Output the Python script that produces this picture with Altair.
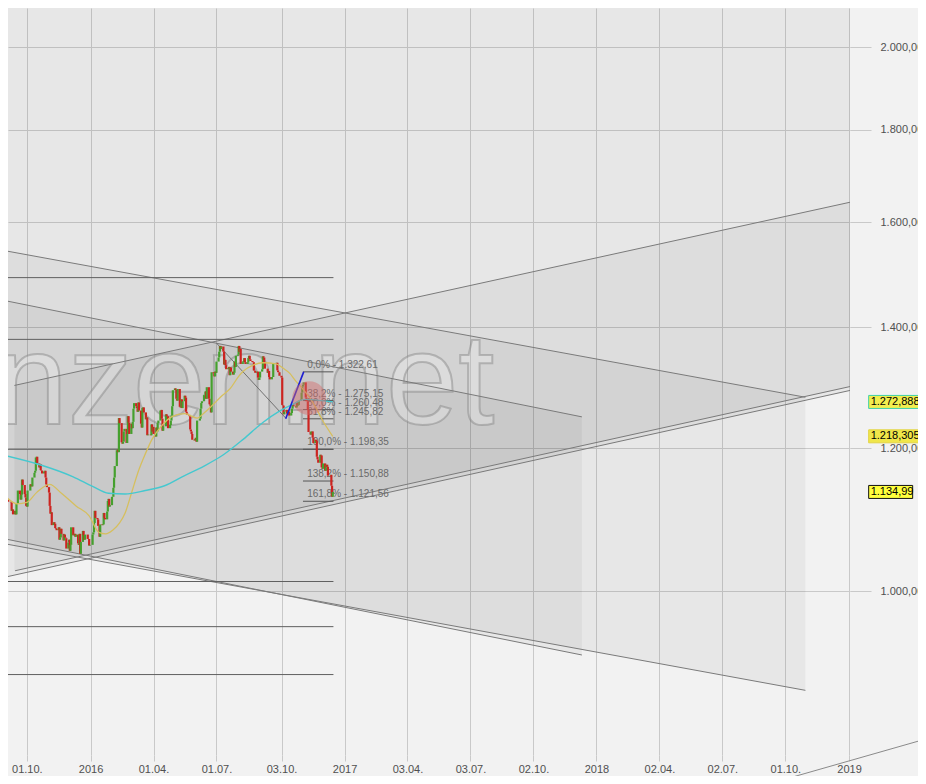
import altair as alt
import pandas as pd

# ---------------- layout ----------------
W, H = 842, 747
SX, SY = W / 857, H / 762
FONT = "Liberation Sans, Arial, sans-serif"

# ---------------- price data: daily closes (USD/oz) ----------------
c_2015_09 = [1124, 1121, 1121, 1120, 1108, 1110, 1103, 1108, 1103, 1118, 1118, 1137, 1132, 1124, 1131, 1153, 1145, 1132, 1127, 1115]
c_2015_10 = [1114, 1137, 1137, 1146, 1145, 1143, 1156, 1163, 1166, 1186, 1187, 1177, 1171, 1176, 1167, 1166, 1162, 1165, 1166, 1156, 1146, 1142]
c_2015_11 = [1134, 1115, 1104, 1106, 1088, 1092, 1090, 1084, 1083, 1081, 1085, 1068, 1071, 1083, 1076, 1067, 1075, 1071, 1070, 1056, 1064]
c_2015_12 = [1068, 1053, 1061, 1085, 1074, 1075, 1076, 1072, 1075, 1063, 1061, 1076, 1049, 1065, 1080, 1074, 1068, 1075, 1075, 1069, 1069, 1060, 1061]
c_2016_01 = [1061, 1075, 1078, 1091, 1108, 1098, 1096, 1087, 1087, 1072, 1089, 1088, 1089, 1105, 1098, 1096, 1107, 1122, 1125, 1114, 1116]
c_2016_02 = [1128, 1128, 1141, 1156, 1173, 1197, 1198, 1194, 1247, 1239, 1209, 1207, 1210, 1226, 1230, 1208, 1222, 1250, 1240, 1222, 1238]
c_2016_03 = [1231, 1241, 1262, 1271, 1266, 1263, 1257, 1272, 1259, 1238, 1232, 1263, 1264, 1256, 1245, 1248, 1220, 1221, 1221, 1220, 1237, 1226, 1233]
c_2016_04 = [1222, 1218, 1232, 1226, 1239, 1243, 1259, 1260, 1246, 1227, 1234, 1234, 1253, 1250, 1250, 1231, 1236, 1243, 1251, 1266, 1292]
c_2016_05 = [1295, 1293, 1278, 1275, 1294, 1265, 1264, 1277, 1263, 1274, 1283, 1280, 1257, 1254, 1252, 1250, 1229, 1226, 1222, 1213, 1212, 1214]
c_2016_06 = [1216, 1210, 1243, 1243, 1246, 1262, 1271, 1274, 1284, 1285, 1290, 1278, 1297, 1278, 1269, 1267, 1256, 1322, 1320, 1315, 1323, 1321]
c_2016_07 = [1340, 1347, 1357, 1367, 1362, 1366, 1357, 1335, 1343, 1334, 1327, 1329, 1331, 1317, 1330, 1323, 1318, 1321, 1340, 1331, 1350]
c_2016_08 = [1352, 1367, 1357, 1362, 1336, 1339, 1341, 1346, 1339, 1336, 1339, 1346, 1350, 1344, 1341, 1339, 1339, 1325, 1324, 1321, 1323, 1313, 1309]
c_2016_09 = [1313, 1323, 1327, 1349, 1347, 1338, 1328, 1328, 1321, 1324, 1314, 1310, 1314, 1314, 1336, 1337, 1337, 1338, 1325, 1322, 1322, 1316]
c_2016_10 = [1313, 1268, 1267, 1253, 1257, 1260, 1254, 1254, 1257, 1251, 1255, 1262, 1269, 1267, 1266, 1264, 1273, 1267, 1268, 1275, 1277]
c_2016_11 = [1288, 1298, 1301, 1305, 1280, 1274, 1274, 1260, 1225, 1221, 1226, 1226, 1216, 1208, 1213, 1211, 1187, 1183, 1178, 1190, 1189, 1171]
c_2016_12 = [1169, 1177, 1166, 1171, 1175, 1172, 1159, 1159, 1160, 1144, 1128, 1135]

months = [
    ("2015-09-03", "2015-09-30", c_2015_09), ("2015-10-01", "2015-10-31", c_2015_10),
    ("2015-11-01", "2015-11-30", c_2015_11), ("2015-12-01", "2015-12-31", c_2015_12),
    ("2016-01-01", "2016-01-31", c_2016_01), ("2016-02-01", "2016-02-29", c_2016_02),
    ("2016-03-01", "2016-03-31", c_2016_03), ("2016-04-01", "2016-04-30", c_2016_04),
    ("2016-05-01", "2016-05-31", c_2016_05), ("2016-06-01", "2016-06-30", c_2016_06),
    ("2016-07-01", "2016-07-31", c_2016_07), ("2016-08-01", "2016-08-31", c_2016_08),
    ("2016-09-01", "2016-09-30", c_2016_09), ("2016-10-01", "2016-10-31", c_2016_10),
    ("2016-11-01", "2016-11-30", c_2016_11), ("2016-12-01", "2016-12-16", c_2016_12),
]

# moving averages
yellow_dates = ["2015-09-03", "2015-09-17", "2015-10-01", "2015-10-15", "2015-11-03", "2015-11-20", "2015-12-11",
                "2015-12-30", "2016-01-13", "2016-01-23", "2016-02-02", "2016-02-12", "2016-02-20", "2016-03-01",
                "2016-03-10", "2016-03-20", "2016-03-30", "2016-04-13", "2016-04-27", "2016-05-16", "2016-06-03",
                "2016-06-13", "2016-06-23", "2016-07-07", "2016-07-21", "2016-08-02", "2016-08-09", "2016-08-23",
                "2016-09-06", "2016-09-25", "2016-10-05", "2016-10-15", "2016-10-23", "2016-11-02", "2016-11-12",
                "2016-11-21", "2016-12-01", "2016-12-16"]
yellow_vals = [1126, 1118, 1120, 1134, 1146, 1133, 1115, 1101, 1078, 1076, 1081, 1091, 1105, 1136, 1165, 1191, 1214,
               1235, 1249, 1254, 1247, 1255, 1265, 1281, 1295, 1315, 1324, 1334, 1338, 1336, 1329, 1320, 1308, 1295,
               1281, 1265, 1244, 1218.3]
cyan_dates = ["2015-09-03", "2015-10-20", "2015-12-07", "2016-01-04", "2016-01-27", "2016-02-20", "2016-03-20",
              "2016-04-17", "2016-05-16", "2016-06-13", "2016-07-11", "2016-08-09", "2016-09-06", "2016-09-30",
              "2016-10-19", "2016-11-06", "2016-11-30", "2016-12-16"]
cyan_vals = [1188, 1175, 1157, 1143, 1133, 1132, 1137, 1144, 1159, 1173, 1190, 1214, 1240, 1258, 1269, 1277, 1275, 1272.9]

# trend channels (filled) : start/end dates, upper and lower edge values
chan_names = ["outer", "rising", "falling_wide", "falling_narrow"]
chan_start = ["2015-09-03", "2015-09-13", "2015-09-03", "2015-09-03"]
chan_end = ["2019-01-03", "2019-01-03", "2018-10-30", "2017-12-11"]
chan_up_start = [2400, 1299.9, 1542.4, 1447.3]
chan_up_end = [2400, 1641.8, 1280.5, 1248.9]
chan_lo_start = [1018.9, 1026.4, 1061.8, 1068.4]
chan_lo_end = [1291.8, 1298.2, 881.5, 922.1]

# channel edge lines
line_names = ["A", "B", "C", "D", "D2", "E1", "E2"]
line_d1 = ["2015-09-03", "2015-09-03", "2015-09-13", "2015-09-14", "2015-09-03", "2015-09-03", "2015-09-03"]
line_v1 = [1542.4, 1447.3, 1299.9, 1026.6, 1018.9, 1061.8, 1068.4]
line_d2 = ["2018-10-30", "2017-12-11", "2019-01-03", "2019-01-03", "2019-01-03", "2018-10-30", "2017-12-11"]
line_v2 = [1280.5, 1248.9, 1641.8, 1298.2, 1291.8, 881.5, 922.1]

# long horizontal levels
hl_vals = [1491.3, 1378.5, 1198.35, 1012.6, 956.0, 899.4]
hl_start, hl_end = "2015-08-15", "2016-12-17"

# Fibonacci tool
fib_vals = [1322.61, 1275.15, 1260.48, 1245.82, 1198.35, 1150.88, 1121.56]
fib_labels = ["0,0% - 1.322,61", "38,2% - 1.275,15", "50,0% - 1.260,48", "61,8% - 1.245,82",
              "100,0% - 1.198,35", "138,2% - 1.150,88", "161,8% - 1.121,56"]
fib_start, fib_end, fib_text_date = "2016-11-03", "2016-12-17", "2016-11-09"

blue_dates, blue_vals = ["2016-10-09", "2016-11-04"], [1245.82, 1322.61]
grey_dates, grey_vals = ["2016-07-01", "2016-10-09"], [1372.0, 1247.0]
circle_date, circle_val = "2016-11-12", 1279.0
corner_dates, corner_vals = ["2018-09-15", "2019-04-30"], [784.1, 830.2]

# right-hand value boxes
box_vals = [1272.888, 1218.305, 1134.99]
box_labels = ["1.272,888", "1.218,305", "1.134,99"]
box_fill = ["#f2ee4e", "#f0e64a", "#ffff3c"]
box_stroke = ["#3fd0a8", "#e2d444", "#111111"]
box_w = [56, 56, 44]

# axes
x_tick_dates = ["2015-10-01", "2016-01-01", "2016-04-01", "2016-07-01", "2016-10-03", "2017-01-02", "2017-04-03",
                "2017-07-03", "2017-10-02", "2018-01-01", "2018-04-02", "2018-07-02", "2018-10-01", "2019-01-01"]
x_tick_labels = ["01.10.", "2016", "01.04.", "01.07.", "03.10.", "2017", "03.04.", "03.07.", "02.10.", "2018",
                 "02.04.", "02.07.", "01.10.", "2019"]
y_tick_vals = [1000, 1200, 1400, 1600, 1800, 2000]
y_tick_labels = ["1.000,00", "1.200,00", "1.400,00", "1.600,00", "1.800,00", "2.000,00"]

# ---------------- build tables ----------------
T = pd.to_datetime
rows = []
for s, e, vals in months:
    for d, v in zip(pd.bdate_range(s, e), vals):
        rows.append({"date": d, "close": v})
candles = pd.DataFrame(rows)
candles["open"] = candles["close"].shift(1)
candles = candles.dropna()
candles["dir"] = ["up" if c >= o else "down" for o, c in zip(candles["open"], candles["close"])]
candles = candles.rename(columns={"open": "val"})

area_rows = []
for n, s, e, us, ue, ls, le in zip(chan_names, chan_start, chan_end, chan_up_start, chan_up_end, chan_lo_start, chan_lo_end):
    area_rows.append({"shape": n, "date": T(s), "val": us, "lower": ls})
    area_rows.append({"shape": n, "date": T(e), "val": ue, "lower": le})
area_df = pd.DataFrame(area_rows)


def seg_df(ids, d1, v1, d2, v2):
    r = []
    for i, a, b, c, d in zip(ids, d1, v1, d2, v2):
        r.append({"id": i, "date": T(a), "val": b})
        r.append({"id": i, "date": T(c), "val": d})
    return pd.DataFrame(r)


chan_lines = seg_df(line_names, line_d1, line_v1, line_d2, line_v2)
hl_df = seg_df([f"h{i}" for i in range(len(hl_vals))], [hl_start] * len(hl_vals), hl_vals,
               [hl_end] * len(hl_vals), hl_vals)
fib_df = seg_df([f"f{i}" for i in range(len(fib_vals))], [fib_start] * len(fib_vals), fib_vals,
                [fib_end] * len(fib_vals), fib_vals)
fib_txt = pd.DataFrame({"date": [T(fib_text_date)] * len(fib_vals), "val": fib_vals, "label": fib_labels})
yellow_df = pd.DataFrame({"date": T(yellow_dates), "val": yellow_vals})
cyan_df = pd.DataFrame({"date": T(cyan_dates), "val": cyan_vals})
blue_df = pd.DataFrame({"date": T(blue_dates), "val": blue_vals})
grey_df = pd.DataFrame({"date": T(grey_dates), "val": grey_vals})
corner_df = pd.DataFrame({"date": T(corner_dates), "val": corner_vals})
circle_df = pd.DataFrame({"date": [T(circle_date)], "val": [circle_val]})

# ---------------- scales & axes ----------------
xscale = alt.Scale(type="time", domain=[alt.DateTime(year=2015, month=9, date=3, hours=18),
                                        alt.DateTime(year=2019, month=1, date=2, hours=10)])
yscale = alt.Scale(type="log", domain=[811.8, 2102.5], nice=False)


def ternary(test_expr, keys, labels):
    expr = "''"
    for k, l in reversed(list(zip(keys, labels))):
        expr = f"({test_expr}=={k} ? '{l}' : {expr})"
    return expr


x_label_expr = ternary("timeFormat(datum.value, '%Y-%m-%d')", [f"'{d}'" for d in x_tick_dates], x_tick_labels)
y_label_expr = ternary("datum.value", [str(v) for v in y_tick_vals], y_tick_labels)

x_axis = alt.Axis(
    values=[alt.DateTime(year=int(d[:4]), month=int(d[5:7]), date=int(d[8:])) for d in x_tick_dates],
    labelExpr=x_label_expr, grid=True, gridColor="#c9c9c9", gridWidth=1, tickColor="#c9c9c9",
    tickSize=6, domain=False, labelFont=FONT, labelFontSize=11, labelColor="#505050", labelPadding=2,
    labelOverlap=False, labelFlush=False, title=None,
)
y_axis = alt.Axis(
    orient="right", values=y_tick_vals, labelExpr=y_label_expr, grid=True, gridColor="#c9c9c9", gridWidth=1,
    tickColor="#c9c9c9", tickSize=21, domain=False, labelFont=FONT, labelFontSize=11, labelColor="#505050",
    labelPadding=9, labelAlign="left", labelOverlap=False, labelFlush=False, title=None,
)


def X():
    return alt.X("date:T", scale=xscale, axis=x_axis, title=None)


def Y():
    return alt.Y("val:Q", scale=yscale, axis=y_axis, title=None)


# ---------------- layers ----------------
areas = alt.Chart(area_df).mark_area(fill="#000000", fillOpacity=0.045, clip=True).encode(
    x=X(),
    y=alt.Y("val:Q", scale=yscale, axis=y_axis, title=None, stack=False),
    y2="lower:Q",
    detail="shape:N",
)

wm = alt.Chart(pd.DataFrame({"t": ["finanzen.net"]})).mark_text(
    align="right", baseline="alphabetic", font=FONT, fontSize=130, fill="#ffffff", fillOpacity=0.22,
    stroke="#808080", strokeOpacity=0.45, strokeWidth=2, clip=True,
).encode(x=alt.value(495 * SX), y=alt.value(424 * SY), text="t:N")

lines_chan = alt.Chart(chan_lines).mark_line(color="#7a7a7a", strokeWidth=1, clip=True).encode(
    x=X(), y=Y(), detail="id:N")
lines_h = alt.Chart(hl_df).mark_line(color="#606060", strokeWidth=1, clip=True).encode(
    x=X(), y=Y(), detail="id:N")
lines_fib = alt.Chart(fib_df).mark_line(color="#555555", strokeWidth=1, clip=True).encode(
    x=X(), y=Y(), detail="id:N")
fib_text = alt.Chart(fib_txt).mark_text(
    align="left", baseline="middle", dy=-7, font=FONT, fontSize=10, color="#6a6a6a").encode(
    x=X(), y=Y(), text="label:N")
grey_line = alt.Chart(grey_df).mark_line(color="#707070", strokeWidth=1, clip=True).encode(x=X(), y=Y())

candle_layer = alt.Chart(candles).mark_rule(strokeWidth=2.2, clip=True).encode(
    x=X(),
    y=Y(),
    y2="close:Q",
    color=alt.Color("dir:N", scale=alt.Scale(domain=["up", "down"], range=["#45a02e", "#cc2420"]), legend=None),
)

yellow_line = alt.Chart(yellow_df).mark_line(color="#d6bf5e", strokeWidth=1.3, interpolate="monotone",
                                             clip=True).encode(x=X(), y=Y())
cyan_line = alt.Chart(cyan_df).mark_line(color="#45c8cf", strokeWidth=1.4, interpolate="monotone",
                                         clip=True).encode(x=X(), y=Y())
blue_line = alt.Chart(blue_df).mark_line(color="#1e1ed2", strokeWidth=1.6, clip=True).encode(x=X(), y=Y())

circle = alt.Chart(circle_df).mark_circle(size=3.1416 * (19.5 * SX) ** 2, color="#d46a6a", opacity=0.45).encode(
    x=X(), y=Y())

corner_line = alt.Chart(corner_df).mark_line(color="#8a8a8a", strokeWidth=1, clip=False).encode(x=X(), y=Y())

box_layers = []
for v, lab, f, s, w in zip(box_vals, box_labels, box_fill, box_stroke, box_w):
    r = 13.0 / w
    shape = f"M-1,-{r:.3f}H1V{r:.3f}H-1Z"
    d = pd.DataFrame({"val": [v], "label": [lab]})
    box_layers.append(alt.Chart(d).mark_point(shape=shape, size=w * w, filled=True, fill=f, stroke=s,
                                              strokeWidth=1, opacity=1).encode(
        x=alt.value(W + 19 * SX + w / 2), y=Y()))
    box_layers.append(alt.Chart(d).mark_text(align="left", baseline="middle", font=FONT, fontSize=11,
                                             color="#000000").encode(
        x=alt.value(W + 21 * SX), y=Y(), text="label:N"))

chart = alt.layer(
    areas, wm, lines_chan, lines_h, lines_fib, fib_text, grey_line, candle_layer,
    yellow_line, cyan_line, blue_line, circle, corner_line, *box_layers,
).properties(
    width=W, height=H,
    autosize=alt.AutoSizeParams(type="none"),
    padding={"left": 0, "top": 0, "right": 910 - W, "bottom": 768 - H},
    background="#f2f2f2",
).configure_view(strokeWidth=0, fill="#f2f2f2")

chart.save("out.html", embed_options={"renderer": "svg", "actions": False})
